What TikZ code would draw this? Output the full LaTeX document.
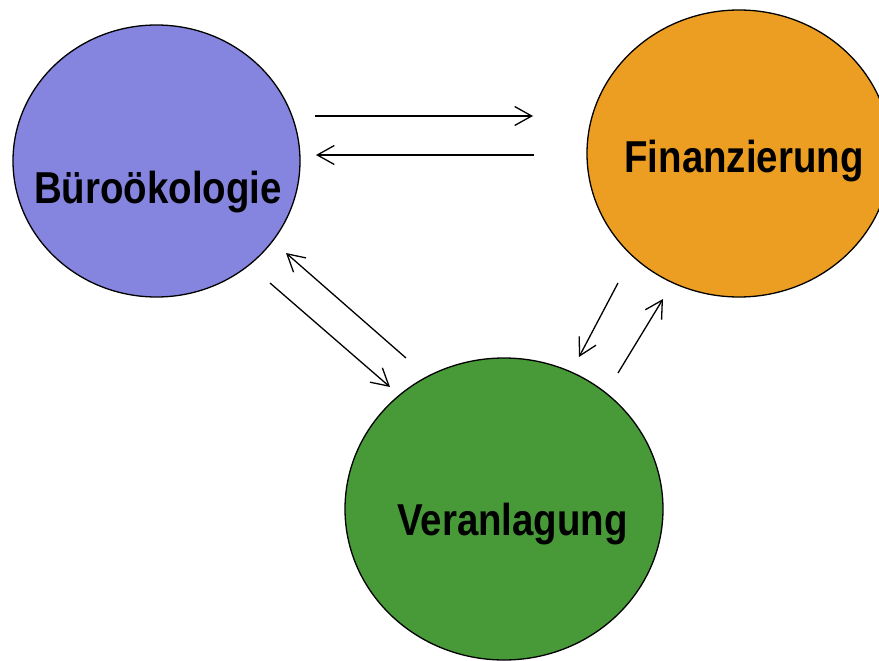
\documentclass[tikz,border=0pt]{standalone}
\usepackage{fontspec}
\setmainfont{Liberation Sans}[FakeStretch=0.86]
\usetikzlibrary{shapes.geometric,arrows.meta}
\definecolor{bueroblau}{RGB}{133,133,224}
\definecolor{finanzorange}{RGB}{236,158,34}
\definecolor{anlagegruen}{RGB}{71,154,55}
\tikzset{
    bereich/.style={draw, ellipse, line width=1.3pt, inner sep=0pt},
    titel/.style={font=\bfseries\fontsize{44.7}{50}\selectfont, anchor=base, inner sep=0pt},
    fluss/.style={-{Straight Barb[length=17pt,width=19pt]}, line width=1.3pt}
}
\begin{document}
\begin{tikzpicture}[x=1pt, y=-1pt]
    \clip (0,0) rectangle (879,661);
    \useasboundingbox (0,0) rectangle (879,661);

    % Drei Bereiche
    \node[bereich, fill=bueroblau, minimum width=287pt, minimum height=272pt] (B) at (156.5,161) {};
    \node[bereich, fill=finanzorange, minimum width=304pt, minimum height=287pt] (F) at (739,153.5) {};
    \node[bereich, fill=anlagegruen, minimum width=318pt, minimum height=302pt] (V) at (504,509) {};

    \node[titel] (Bt) at (158,203) {Büroökologie};
    \node[titel] (Ft) at (744,172) {Finanzierung};
    \node[titel] (Vt) at (512.5,535) {Veranlagung};

    % Endpunkte der Pfeile
    \coordinate (BF1) at (315,116);  \coordinate (BF2) at (533,116);
    \coordinate (FB1) at (534,155);  \coordinate (FB2) at (316,155);
    \coordinate (BV1) at (270,283);  \coordinate (BV2) at (390,387);
    \coordinate (VB1) at (406,358);  \coordinate (VB2) at (286,253);
    \coordinate (FV1) at (618,283);  \coordinate (FV2) at (579,357);
    \coordinate (VF1) at (618,373);  \coordinate (VF2) at (663,299);

    % Wechselwirkungen
    \draw[fluss] (BF1) -- (BF2);
    \draw[fluss] (FB1) -- (FB2);
    \draw[fluss] (BV1) -- (BV2);
    \draw[fluss] (VB1) -- (VB2);
    \draw[fluss] (FV1) -- (FV2);
    \draw[fluss] (VF1) -- (VF2);
\end{tikzpicture}
\end{document}
